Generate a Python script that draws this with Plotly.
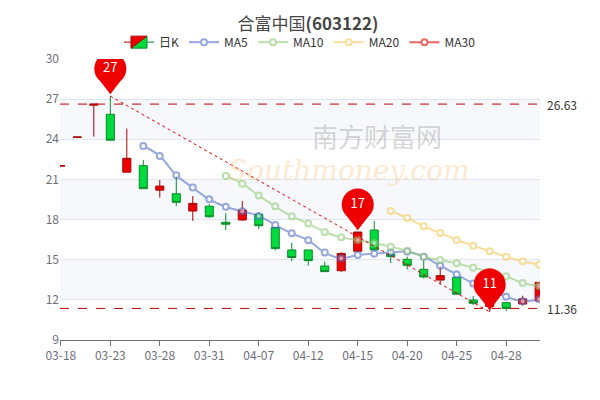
import plotly.graph_objects as go

dates = ["03-18","03-21","03-22","03-23","03-24","03-25","03-28","03-29","03-30","03-31",
         "04-01","04-06","04-07","04-08","04-11","04-12","04-13","04-14","04-15","04-18",
         "04-19","04-20","04-21","04-22","04-25","04-26","04-27","04-28","04-29","05-05"]
opens  = [22.0,24.15,26.55,25.87,21.54,22.03,20.2,19.93,18.64,19.0,17.8,17.97,18.39,17.4,15.73,
          15.73,14.53,14.18,15.63,17.22,15.43,15.03,14.28,13.48,13.69,11.99,11.5,11.79,11.69,11.92]
closes = [22.02,24.17,26.63,23.93,22.58,20.31,20.5,19.29,19.21,18.21,17.65,18.71,17.54,15.83,15.16,
          14.93,14.11,15.47,17.07,15.73,15.23,14.58,13.71,13.81,12.42,11.74,11.9,11.36,12.07,13.31]
highs  = [22.02,24.17,26.63,27.23,24.8,22.45,20.96,21.26,19.76,19.16,18.47,19.39,18.52,17.4,16.27,
          15.73,14.85,15.55,17.07,17.9,15.73,15.23,14.93,14.55,13.69,12.29,12.0,11.85,12.31,13.31]
lows   = [22.0,24.15,24.2,23.93,21.54,20.31,19.64,19.0,17.9,18.14,17.2,17.9,17.3,15.7,14.9,
          14.56,14.11,14.1,15.6,15.73,14.75,14.28,13.61,13.18,12.42,11.6,11.1,11.16,11.56,11.92]
ma5 = [None]*5 + [23.5,22.75,21.31,20.39,19.51,18.96,18.62,18.27,17.6,16.97,16.45,15.53,15.11,15.35,
       15.45,15.53,15.6,15.23,14.55,13.9,13.22,12.7,12.24,11.9,12.05]
ma10 = [None]*10 + [21.26,20.68,19.79,18.99,18.24,17.7,17.07,16.67,16.47,16.25,15.97,15.67,15.23,
        14.98,14.73,14.4,14.1,13.76,13.26,13.04]
ma20 = [None]*20 + [18.64,18.12,17.5,17.0,16.47,16.05,15.63,15.23,14.88,14.63]
tick_labels = dates[::3]
max_close, min_close = 26.63, 11.36
pins = [(3, 27.23, "27"), (18, 17.07, "17"), (26, 11.1, "11")]

fig = go.Figure()
for y0, y1 in [(24, 27), (18, 21), (12, 15)]:
    fig.add_shape(type="rect", xref="paper", x0=0, x1=1, yref="y", y0=y0, y1=y1,
                  fillcolor="#f6f8fc", line_width=0, layer="below")

fig.add_annotation(xref="paper", yref="paper", x=0.66, y=0.8, text="南方财富网", showarrow=False,
                   font=dict(size=26, color="rgba(150,150,150,0.4)", family="Noto Sans CJK SC"))
fig.add_annotation(xref="paper", yref="paper", x=0.6, y=0.67, text="<i>Southmoney.com</i>", showarrow=False,
                   font=dict(size=28, color="rgba(250,190,120,0.35)", family="DejaVu Serif"))

fig.add_trace(go.Candlestick(x=dates, open=opens, high=highs, low=lows, close=closes, name="日K",
    increasing=dict(line=dict(color="#b00000", width=1), fillcolor="#ee0000"),
    decreasing=dict(line=dict(color="#0a8a2a", width=1), fillcolor="#00da3c"),
    whiskerwidth=0, hoverinfo="skip"))
for nm, vals, col in [("MA5", ma5, "#5470c6"), ("MA10", ma10, "#91cc75"), ("MA20", ma20, "#fac858"),
                      ("MA30", [None]*30, "#ee6666")]:
    fig.add_trace(go.Scatter(x=dates, y=vals, name=nm, mode="lines+markers", line=dict(color=col, width=2, shape="spline"),
        opacity=0.6 if nm != "MA30" else 1,
        marker=dict(symbol="circle", size=6, color="white", line=dict(color=col, width=2))))

for v in [max_close, min_close]:
    fig.add_shape(type="line", xref="paper", x0=0, x1=1, yref="y", y0=v, y1=v,
                  line=dict(color="#c00000", width=1, dash="dash"))
    fig.add_annotation(xref="paper", x=1.01, y=v, yref="y", text=f"{v:.2f}", showarrow=False,
                       xanchor="left", font=dict(size=12, color="#333"))
fig.add_shape(type="line", xref="x", yref="y", x0=dates[pins[0][0]], y0=pins[0][1],
              x1=dates[pins[2][0]], y1=pins[2][1], line=dict(color="#ee0000", width=1, dash="dot"))

px_x = [dates[i] for i, _, _ in pins]
fig.add_trace(go.Scatter(x=px_x, y=[h + 0.8 for _, h, _ in pins], mode="markers", showlegend=False,
    marker=dict(symbol="triangle-down", size=18, color="#ee0000"), hoverinfo="skip"))
fig.add_trace(go.Scatter(x=px_x, y=[h + 2.05 for _, h, _ in pins], mode="markers+text", showlegend=False,
    text=[t for _, _, t in pins], textfont=dict(color="white", size=13),
    marker=dict(symbol="circle", size=32, color="#ee0000"), hoverinfo="skip"))

fig.update_layout(
    width=600, height=400, margin=dict(l=52, r=68, t=51, b=68, autoexpand=False),
    paper_bgcolor="white", plot_bgcolor="white",
    title=dict(text="合富中国<b>(603122)</b>", x=0.5, y=0.96, xanchor="center", yanchor="middle",
               font=dict(size=17, color="#464646", family="Noto Sans CJK SC")),
    legend=dict(orientation="h", x=0.5, xanchor="center", y=1.06, yanchor="middle",
                font=dict(size=12, color="#333"), bgcolor="rgba(0,0,0,0)"),
    font=dict(family="Noto Sans CJK SC", color="#6e7079"),
    xaxis=dict(type="category", range=[-0.05, 29.05], rangeslider=dict(visible=False),
               tickvals=tick_labels, ticktext=tick_labels, showgrid=False, showline=True,
               linecolor="#6e7079", ticks="outside", tickcolor="#6e7079", ticklen=5, tickfont=dict(size=12)),
    yaxis=dict(range=[9, 30], dtick=3, gridcolor="#e0e6f1", zeroline=False, tickfont=dict(size=12)),
)
fig.write_html("out.html")
